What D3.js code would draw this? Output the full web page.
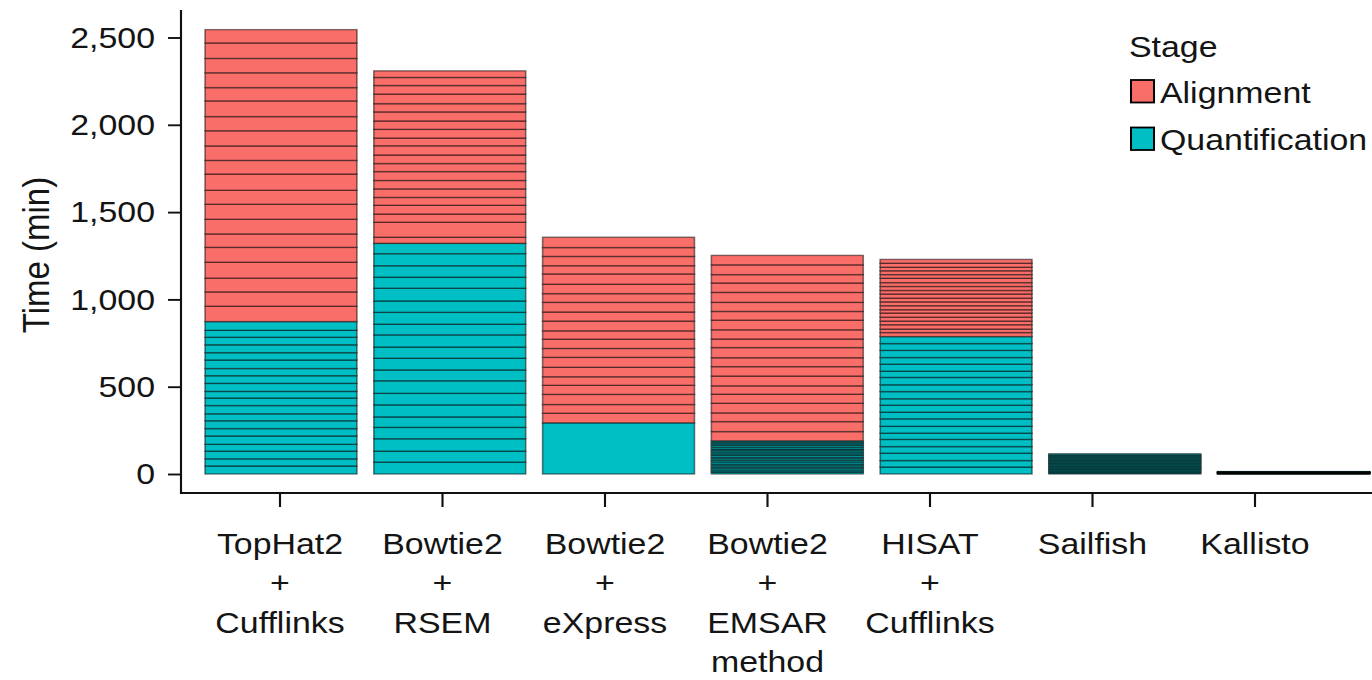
<!DOCTYPE html>
<html>
<head>
<meta charset="utf-8">
<script src="https://cdn.jsdelivr.net/npm/d3@7"></script>
<style>
  body { margin: 0; background: #fff; }
  svg { display: block; }
  text { font-family: "Liberation Sans", Arial, Helvetica, sans-serif; fill: #141414; }
</style>
</head>
<body>
<div id="chart"></div>
<script>
var width = 1372
var height = 680
var sx = 1.13 // the original figure is stretched a bit sideways

var pipelines = ["TopHat2 + Cufflinks", "Bowtie2 + RSEM", "Bowtie2 + eXpress", "Bowtie2 + EMSAR", "HISAT + Cufflinks", "Sailfish", "Kallisto"]
var labelLines = [["TopHat2", "+", "Cufflinks"], ["Bowtie2", "+", "RSEM"], ["Bowtie2", "+", "eXpress"], ["Bowtie2", "+", "EMSAR", "method"], ["HISAT", "+", "Cufflinks"], ["Sailfish"], ["Kallisto"]]
var stages = ["Alignment", "Quantification"]
var stageColors = ["#FA6E6A", "#00BFC4"]
var yTicks = [0, 500, 1000, 1500, 2000, 2500]

// minutes per sample, stacked bottom to top
var tophatQuant = [46, 41, 44, 39, 48, 42, 45, 40, 47, 43, 38, 46, 44, 41, 49, 42, 45, 43, 40, 50]
var tophatAlign = [88, 82, 79, 91, 85, 77, 84, 86, 80, 93, 78, 83, 87, 81, 90, 76, 85, 82, 89, 76]
var rsemQuant = [68, 63, 71, 65, 60, 69, 66, 72, 62, 67, 64, 70, 61, 68, 65, 73, 63, 66, 69, 59]
var rsemAlign = [35, 86, 47, 50, 45, 49, 48, 51, 46, 49, 53, 44, 50, 48, 52, 47, 55, 49, 46, 38]
var expressQuant = [293]
var expressAlign = [55, 50, 58, 52, 49, 54, 57, 51, 53, 48, 56, 52, 55, 50, 54, 59, 47, 53, 51, 59]
var emsarQuant = [10, 9, 11, 8, 10, 9, 12, 9, 10, 8, 11, 9, 10, 9, 8, 11, 10, 9, 8, 9]
var emsarAlign = [53, 57, 50, 55, 52, 48, 56, 54, 51, 58, 49, 53, 55, 50, 52, 57, 54, 48, 56, 54]
var hisatQuant = [40, 37, 42, 38, 41, 36, 39, 43, 38, 40, 37, 41, 39, 42, 36, 40, 38, 41, 39, 40]
var hisatAlign = [23, 20, 25, 21, 22, 24, 19, 23, 22, 21, 24, 20, 23, 22, 25, 21, 22, 20, 23, 22]
var sailfishQuant = [6, 5, 7, 6, 5, 6, 6, 5, 7, 6, 5, 6, 6, 5, 6, 7, 5, 6, 5, 6]
var kallistoQuant = [0.8, 0.6, 0.7, 0.7, 0.6, 0.8, 0.7, 0.6, 0.7, 0.8, 0.7, 0.6, 0.7, 0.7, 0.8, 0.6, 0.7, 0.7, 0.6, 0.8]

var quantTimes = [tophatQuant, rsemQuant, expressQuant, emsarQuant, hisatQuant, sailfishQuant, kallistoQuant]
var alignTimes = [tophatAlign, rsemAlign, expressAlign, emsarAlign, hisatAlign, [], []]

// screen px -> viewBox units along x
function px(v) { return v / sx }

var segments = []
pipelines.forEach((p, i) => {
  var top = 0
  quantTimes[i].forEach(v => {
    segments.push({pipeline: p, stage: stages[1], y0: top, y1: top + v})
    top += v
  })
  alignTimes[i].forEach(v => {
    segments.push({pipeline: p, stage: stages[0], y0: top, y1: top + v})
    top += v
  })
})

var svg = d3.select("#chart").append("svg")
  .attr("width", width)
  .attr("height", height)
  .attr("viewBox", [0, 0, width / sx, height])
  .attr("preserveAspectRatio", "none")

var x = d3.scaleBand().domain(pipelines)
  .range([px(196.6), px(1378)])
  .paddingInner(0.1).paddingOuter(0.05)

// the tick labels sit on a slightly tighter spacing than the bars
var xLab = d3.scaleBand().domain(pipelines)
  .range([px(198.75), px(1336.25)])

var y = d3.scaleLinear().domain([0, 2500]).range([474, 37.5])

var color = d3.scaleOrdinal().domain(stages).range(stageColors)

// bars, one rect per sample
svg.append("g")
  .selectAll("rect")
  .data(segments)
  .join("rect")
    .attr("x", d => x(d.pipeline))
    .attr("width", x.bandwidth())
    .attr("y", d => y(d.y1))
    .attr("height", d => y(d.y0) - y(d.y1))
    .attr("fill", d => color(d.stage))
    .attr("stroke", "#000")
    .attr("stroke-opacity", 0.5)
    .attr("stroke-width", 1.4)

// y axis
var gy = svg.append("g")
  .attr("transform", `translate(${px(181)},0)`)
  .call(d3.axisLeft(y).tickValues(yTicks).tickFormat(d3.format(",")).tickSize(px(13)).tickPadding(px(13)))
gy.select(".domain").remove()
gy.selectAll(".tick line").attr("stroke", "#111").attr("stroke-width", 1.9)
gy.selectAll(".tick text").attr("font-size", 30).attr("font-family", null).attr("fill", "#141414")

svg.append("line")
  .attr("x1", px(181)).attr("x2", px(181))
  .attr("y1", 10).attr("y2", 494)
  .attr("stroke", "#111").attr("stroke-width", 1.9)

// x axis
var gx = svg.append("g")
  .attr("transform", "translate(0,493)")
  .call(d3.axisBottom(xLab).tickSize(14).tickFormat(""))
gx.select(".domain").remove()
gx.selectAll(".tick line").attr("stroke", "#111").attr("stroke-width", 1.9)

svg.append("line")
  .attr("x1", px(180)).attr("x2", width / sx)
  .attr("y1", 493).attr("y2", 493)
  .attr("stroke", "#111").attr("stroke-width", 1.9)

svg.append("g")
  .selectAll("text")
  .data(pipelines)
  .join("text")
    .attr("text-anchor", "middle")
    .attr("font-size", 30)
    .selectAll("tspan")
    .data((d, i) => labelLines[i].map(t => ({t: t, x: xLab(d) + xLab.bandwidth() / 2})))
    .join("tspan")
      .attr("x", d => d.x)
      .attr("y", (d, j) => 554 + j * 39.5)
      .text(d => d.t)

// y title
svg.append("text")
  .attr("transform", `translate(${px(49)},255) rotate(-90)`)
  .attr("text-anchor", "middle")
  .attr("font-size", 33)
  .text("Time (min)")

// legend
var legend = svg.append("g")
legend.append("text")
  .attr("x", px(1129)).attr("y", 57)
  .attr("font-size", 30)
  .text("Stage")

var items = legend.selectAll(".item")
  .data(stages)
  .join("g")
    .attr("class", "item")
    .attr("transform", (d, i) => `translate(0,${80 + i * 47.5})`)
items.append("rect")
  .attr("x", px(1131)).attr("y", 0)
  .attr("width", px(23)).attr("height", 22.5)
  .attr("fill", d => color(d))
  .attr("stroke", "#000").attr("stroke-width", 1.8)
items.append("text")
  .attr("x", px(1160)).attr("y", 22.5)
  .attr("font-size", 30)
  .text(d => d)
</script>
</body>
</html>
